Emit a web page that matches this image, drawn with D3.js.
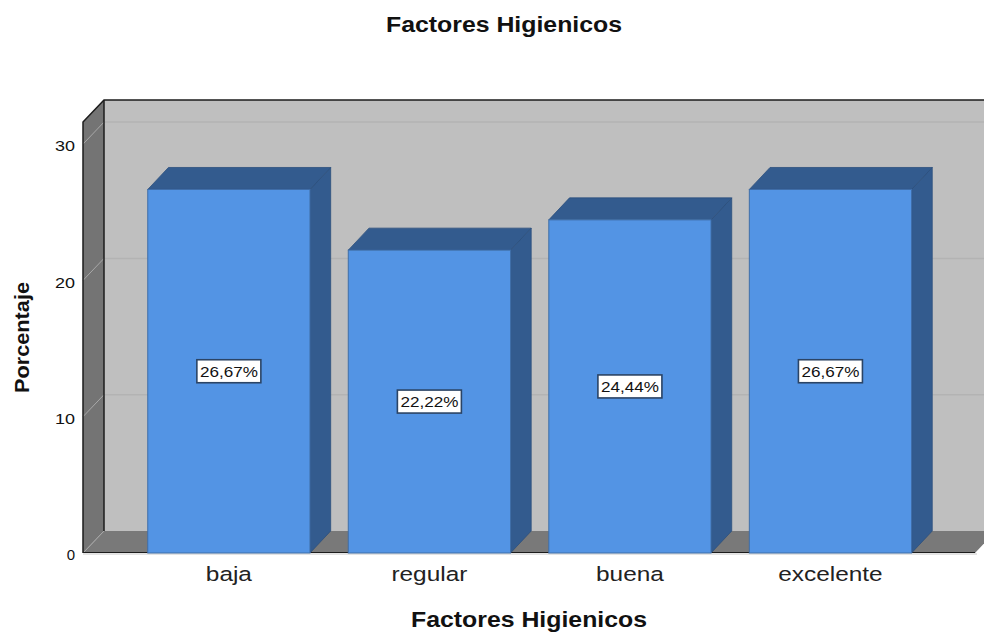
<!DOCTYPE html>
<html>
<head>
<meta charset="utf-8">
<script src="https://cdn.jsdelivr.net/npm/d3@7"></script>
<style>
html,body{margin:0;padding:0;background:#fff;overflow:hidden}
svg{display:block}
text{font-family:"Liberation Sans",Arial,sans-serif;fill:#111}
</style>
</head>
<body>
<svg id="chart" width="984" height="632"></svg>
<script>
const categories = ["baja", "regular", "buena", "excelente"];
const percentages = [26.67, 22.22, 24.44, 26.67];
const percentLabels = ["26,67%", "22,22%", "24,44%", "26,67%"];
const yTicks = [0, 10, 20, 30];
const chartTitle = "Factores Higienicos";
const xTitle = "Factores Higienicos";
const yTitle = "Porcentaje";

const colors = {
  wall: "#bfbfbf", side: "#747474", floor: "#797979", grid: "#b3b3b3", sideGrid: "#a8a8a8",
  edge: "#1c1c1c", bar: "#5394e4", barDark: "#335b8e", barEdge: "#3f6ea8"
};

// Extrusion of the 3-D box: the back plane sits up and to the right of the front plane.
const depthX = 21, depthY = -22;
const barDepthX = 20.7;
const front = { left: 83, right: 975, bottom: 553, top: 122 };

const svg = d3.select("#chart");
const y = d3.scaleLinear().domain([0, 31.62]).range([front.bottom, front.top]);
const x = d3.scaleBand().domain(categories).range([128.6, 930.7]).paddingInner(0.191).paddingOuter(0.0955);

const poly = pts => pts.map(p => p.join(",")).join(" ");
const yBase = y(0), yTop = y.range()[1];

// Back wall, left wall, floor
svg.append("polygon").attr("fill", colors.wall)
  .attr("points", poly([[front.left + depthX, yTop + depthY], [front.right + depthX, yTop + depthY], [front.right + depthX, yBase + depthY], [front.left + depthX, yBase + depthY]]));
svg.append("polygon").attr("fill", colors.side)
  .attr("points", poly([[front.left, yTop], [front.left + depthX, yTop + depthY], [front.left + depthX, yBase + depthY], [front.left, yBase]]));
svg.append("polygon").attr("fill", colors.floor)
  .attr("points", poly([[front.left, yBase], [front.left + depthX, yBase + depthY], [front.right + depthX, yBase + depthY], [front.right, yBase]]));

// Gridlines run across the back wall and down the left wall
const gridValues = yTicks.filter(d => d > 0);
svg.append("g").selectAll("line").data(gridValues).join("line")
  .attr("x1", front.left).attr("x2", front.left + depthX)
  .attr("y1", d => y(d)).attr("y2", d => y(d) + depthY)
  .attr("stroke", colors.sideGrid).attr("stroke-width", 1);
svg.append("g").selectAll("line").data(gridValues).join("line")
  .attr("x1", front.left + depthX).attr("x2", front.right + depthX)
  .attr("y1", d => y(d) + depthY).attr("y2", d => y(d) + depthY)
  .attr("stroke", colors.grid).attr("stroke-width", 1.5);
svg.append("line")
  .attr("x1", front.left).attr("y1", yBase).attr("x2", front.left + depthX).attr("y2", yBase + depthY)
  .attr("stroke", colors.sideGrid).attr("stroke-width", 1);

// Box outline
const outline = "M" + poly([[front.left, yBase], [front.left, yTop], [front.left + depthX, yTop + depthY], [front.right + depthX + 20, yTop + depthY]]).replace(/ /g, "L");
svg.append("path").attr("d", outline).attr("fill", "none").attr("stroke", colors.edge).attr("stroke-width", 1.5);
svg.append("line").attr("x1", front.left + depthX).attr("x2", front.left + depthX)
  .attr("y1", yTop + depthY).attr("y2", yBase + depthY).attr("stroke", colors.edge).attr("stroke-width", 1.5);
svg.append("line").attr("x1", front.left).attr("x2", front.right)
  .attr("y1", yBase - 0.5).attr("y2", yBase - 0.5).attr("stroke", colors.edge).attr("stroke-width", 1.2);
svg.append("line").attr("x1", front.left).attr("x2", front.right + 2)
  .attr("y1", yBase + 1).attr("y2", yBase + 1).attr("stroke", "#c8c8c8").attr("stroke-width", 1);

// Bars: side, top, then front face
const bars = svg.append("g").selectAll("g").data(categories).join("g");
const barValue = i => percentages[i];
bars.append("polygon").attr("fill", colors.barDark).attr("stroke", "#2c4f7c").attr("stroke-width", 0.8)
  .attr("points", (c, i) => {
    const r = x(c) + x.bandwidth(), t = y(barValue(i));
    return poly([[r, t], [r + barDepthX, t + depthY], [r + barDepthX, yBase + depthY], [r, yBase]]);
  });
bars.append("polygon").attr("fill", colors.barDark).attr("stroke", "#2c4f7c").attr("stroke-width", 0.8)
  .attr("points", (c, i) => {
    const l = x(c), r = l + x.bandwidth(), t = y(barValue(i));
    return poly([[l, t], [l + barDepthX, t + depthY], [r + barDepthX, t + depthY], [r, t]]);
  });
bars.append("rect").attr("fill", colors.bar).attr("stroke", colors.barEdge).attr("stroke-width", 1)
  .attr("x", c => x(c)).attr("width", x.bandwidth())
  .attr("y", (c, i) => y(barValue(i))).attr("height", (c, i) => yBase - y(barValue(i)));

// Value labels in white boxes at mid-height of each bar
const labels = svg.append("g").selectAll("g").data(categories).join("g")
  .attr("transform", (c, i) => `translate(${x(c) + x.bandwidth() / 2},${(y(barValue(i)) + yBase) / 2})`);
labels.append("rect").attr("x", -32).attr("y", -11.5).attr("width", 64).attr("height", 23)
  .attr("fill", "#fff").attr("stroke", "#2b4465").attr("stroke-width", 1.6);
labels.append("text").text((c, i) => percentLabels[i])
  .attr("text-anchor", "middle").attr("dy", "0.37em")
  .attr("textLength", 58).attr("lengthAdjust", "spacingAndGlyphs").style("font-size", "15px");

// Axes
const yAxis = svg.append("g").attr("transform", `translate(${front.left},0)`)
  .call(d3.axisLeft(y).tickValues(yTicks).tickSize(0).tickPadding(8).tickFormat(d3.format("d")));
yAxis.select(".domain").remove();
yAxis.selectAll("text").attr("dy", "0.45em").attr("textLength", 20).attr("lengthAdjust", "spacingAndGlyphs")
  .style("font-size", "15px").style("font-family", '"Liberation Sans",Arial,sans-serif');
yAxis.selectAll("text").filter(d => d === 0).attr("textLength", null);

const xAxis = svg.append("g").attr("transform", `translate(0,${front.bottom})`)
  .call(d3.axisBottom(x).tickSize(0).tickPadding(13));
xAxis.select(".domain").remove();
// Category labels are set in a horizontally widened face
xAxis.selectAll("text").attr("transform", "scale(1.19,1)")
  .style("font-size", "20.5px").style("font-family", '"Liberation Sans",Arial,sans-serif').style("fill", "#222");

// Titles
const bold = "700";
svg.append("text").text(chartTitle).attr("x", 504).attr("y", 32).attr("text-anchor", "middle")
  .attr("textLength", 236).attr("lengthAdjust", "spacingAndGlyphs")
  .style("font-size", "22px").style("font-weight", bold);
svg.append("text").text(xTitle).attr("x", 529).attr("y", 627).attr("text-anchor", "middle")
  .attr("textLength", 236).attr("lengthAdjust", "spacingAndGlyphs")
  .style("font-size", "22px").style("font-weight", bold);
svg.append("text").text(yTitle).attr("transform", "translate(28.5,337.5) rotate(-90)").attr("text-anchor", "middle")
  .attr("textLength", 111).attr("lengthAdjust", "spacingAndGlyphs")
  .style("font-size", "21px").style("font-weight", bold);
</script>
</body>
</html>
